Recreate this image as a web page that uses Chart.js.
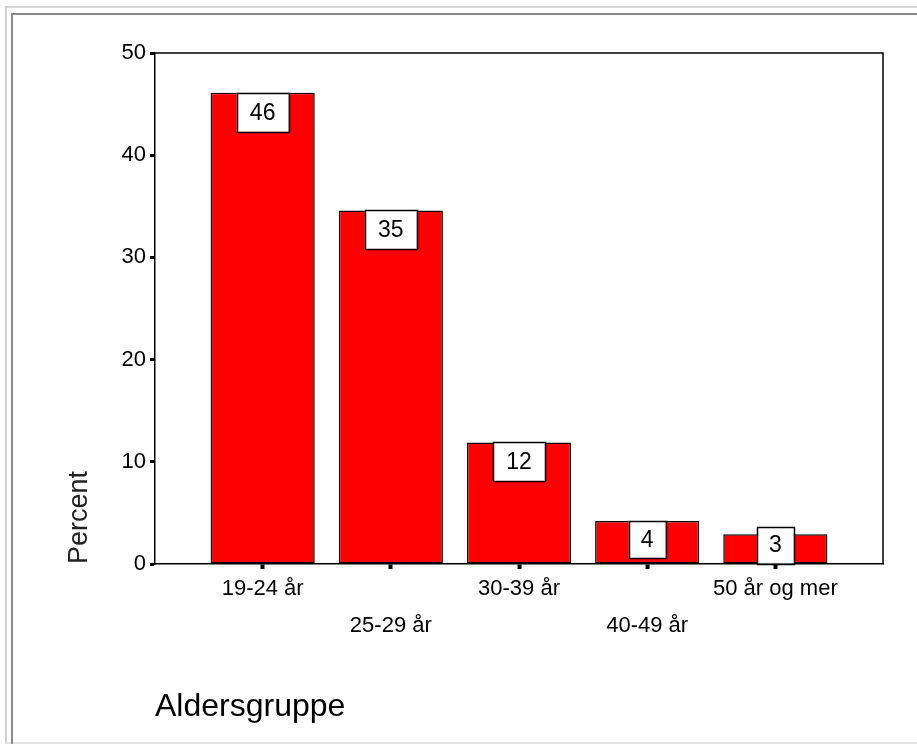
<!DOCTYPE html>
<html>
<head>
<meta charset="utf-8">
<script src="https://cdn.jsdelivr.net/npm/chart.js@4.4.0/dist/chart.umd.min.js"></script>
<style>
  html, body { margin: 0; padding: 0; background: #fff; overflow: hidden; }
  .frame-outer { position: absolute; left: 5px; top: 6px; width: 1000px; height: 734px;
    border-top: 2px solid #d4d4d4; border-left: 2px solid #d4d4d4; border-bottom: 2px solid #e4e4e4; }
  .frame-inner { position: absolute; left: 11px; top: 13px; width: 1000px; height: 800px;
    border-top: 2px solid #8a8a8a; border-left: 2px solid #8a8a8a; }
  .wrap { position: absolute; left: 0; top: 0; width: 917px; height: 744px; }
</style>
</head>
<body>
<div class="frame-outer"></div>
<div class="frame-inner"></div>
<div class="wrap"><canvas id="ageChart" width="917" height="744"></canvas></div>
<script>
// Aldersgruppe chart
const categories = ['19-24 år', '25-29 år', '30-39 år', '40-49 år', '50 år og mer'];
const percentValues = [46.1, 34.6, 11.9, 4.2, 2.9];
const yTicks = [0, 10, 20, 30, 40, 50];

const FONT = "'Liberation Sans', Arial, sans-serif";

// white value boxes near the top of each bar
const valueBoxes = {
  id: 'valueBoxes',
  afterDatasetsDraw(chart) {
    const ctx = chart.ctx;
    const bars = chart.getDatasetMeta(0).data;
    ctx.save();
    ctx.font = '23px ' + FONT;
    ctx.textAlign = 'center';
    ctx.textBaseline = 'middle';
    bars.forEach((bar, i) => {
      const txt = String(Math.round(percentValues[i]));
      const w = txt.length > 1 ? 52 : 37;
      const h = txt.length > 1 ? 39 : 37;
      const top = Math.min(bar.y, bar.base - h);
      ctx.fillStyle = '#fff';
      ctx.fillRect(bar.x - w / 2, top, w, h);
      ctx.strokeStyle = '#000';
      ctx.lineWidth = 1.5;
      ctx.strokeRect(Math.round(bar.x - w / 2) + 0.5, Math.round(top) + 0.5, w, h);
      ctx.fillStyle = '#000';
      ctx.fillText(txt, bar.x, top + h / 2 + 1);
    });
    ctx.restore();
  }
};

// top and right edge of the plot frame
const plotFrame = {
  id: 'plotFrame',
  afterDraw(chart) {
    const a = chart.chartArea;
    const ctx = chart.ctx;
    ctx.save();
    ctx.strokeStyle = '#000';
    ctx.lineWidth = 1.5;
    ctx.beginPath();
    ctx.moveTo(a.left, a.top);
    ctx.lineTo(a.right, a.top);
    ctx.lineTo(a.right, a.bottom);
    ctx.stroke();
    ctx.restore();
  }
};

const ageCtx = document.getElementById('ageChart').getContext('2d');
const ageChart = new Chart(ageCtx, {
  type: 'bar',
  data: {
    datasets: [{
      label: 'Percent',
      data: percentValues.map((v, i) => ({ x: i, y: v })),
      backgroundColor: '#ff0000',
      borderColor: '#000',
      borderWidth: 1.5,
      borderSkipped: false,
      barPercentage: 0.8125,
      categoryPercentage: 1
    }]
  },
  options: {
    responsive: false,
    animation: false,
    layout: { padding: { left: 50, top: 53, right: 34, bottom: 10 } },
    plugins: { legend: { display: false }, tooltip: { enabled: false } },
    scales: {
      x: {
        type: 'linear',
        offset: false,
        min: -0.84,
        max: 4.84,
        afterBuildTicks: s => { s.ticks = categories.map((c, i) => ({ value: i })); },
        afterFit: s => { s.height = 170; },
        grid: { display: true, offset: false, drawOnChartArea: false, color: '#000', tickLength: 5, tickWidth: 4 },
        border: { display: true, color: '#000', width: 1.5 },
        ticks: {
          color: '#000',
          padding: 1,
          maxRotation: 0,
          autoSkip: false,
          font: { family: FONT, size: 22, lineHeight: 1.68 },
          callback: (v, i) => (i % 2 === 1 ? ['', categories[i]] : categories[i])
        },
        title: {
          display: true,
          text: 'Aldersgruppe',
          align: 'start',
          color: '#000',
          font: { family: FONT, size: 32 },
          padding: { top: 0, bottom: 8 }
        }
      },
      y: {
        min: 0,
        max: 50,
        afterBuildTicks: s => { s.ticks = yTicks.map(v => ({ value: v })); },
        afterFit: s => { s.width = 105; },
        grid: { display: true, drawOnChartArea: false, color: '#000', tickLength: 5, tickWidth: 3 },
        border: { display: true, color: '#000', width: 1.5 },
        ticks: { color: '#000', padding: 4, font: { family: FONT, size: 22 } },
        title: {
          display: true,
          text: 'Percent',
          align: 'start',
          color: '#222',
          font: { family: FONT, size: 27 },
          padding: { top: 13, bottom: 0 }
        }
      }
    }
  },
  plugins: [valueBoxes, plotFrame]
});
</script>
</body>
</html>
